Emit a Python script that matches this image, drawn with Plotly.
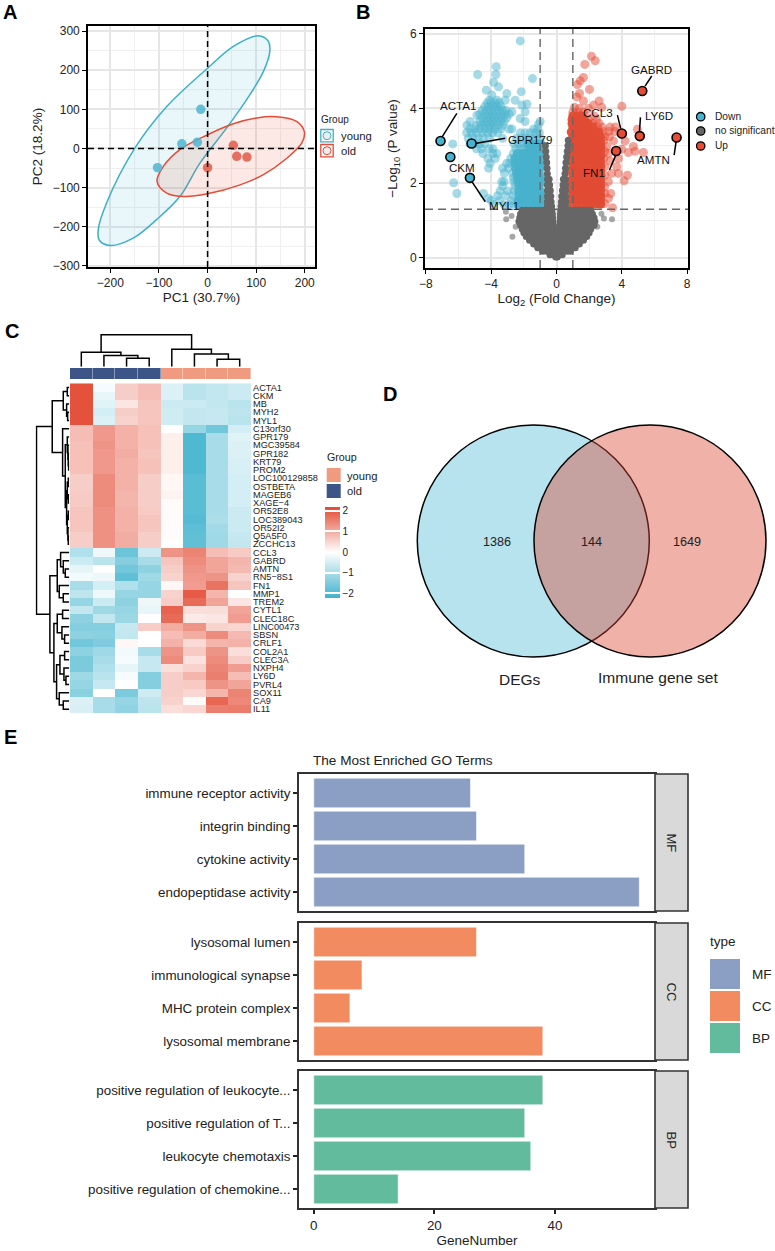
import plotly.graph_objects as go

W, H = 775, 1251
FONT = "Liberation Sans"

# ---------- Panel A data ----------
young_pc1 = [-14, -21, -53, -103]
young_pc2 = [100, 16, 12, -49]
old_pc1 = [0, 53, 60, 81]
old_pc2 = [-49, 8, -20, -22]
young_ell_x = [104, 125, 128, 115, 80, 39, -16, -57, -105, -153, -201, -223, -225, -208, -150, -84, 0, 53, 104]
young_ell_y = [288, 274, 248, 197, 124, 52, -38, -123, -182, -229, -248, -234, -208, -140, 0, 107, 205, 261, 288]
old_ell_x = [142, 183, 199, 194, 163, 115, 67, 0, -47, -84, -104, -91, -57, 0, 53, 101, 142]
old_ell_y = [81, 69, 43, 14, -25, -67, -93, -116, -123, -114, -84, -46, -3, 35, 63, 78, 81]

# ---------- Panel B data (rows: -log10 p -> log2 FC values) ----------
down_rows = {
    5.81: [-2.22], 5.12: [-3.69], 4.91: [-3.71, -4.83], 4.8: [-1.47], 4.7: [-3.85],
    4.58: [-3.55], 4.49: [-4.3], 4.45: [-2.16], 4.4: [-3.04], 4.36: [-3.96],
    4.22: [-3.14, -2.53, -4.1, -3.65], 4.15: [-4.25, -4.0, -3.75, -3.5], 4.12: [-1.81],
    4.09: [-2.12], 4.05: [-4.4, -4.15, -3.9, -3.65, -3.4],
    3.95: [-4.55, -4.3, -4.05, -3.8, -3.55, -3.3, -3.1],
    3.91: [-1.92, -2.73], 3.85: [-4.7, -4.4, -4.15, -3.9, -3.65, -3.4, -3.15, -2.9],
    3.82: [-4.87], 3.75: [-4.55, -4.3, -4.05, -3.8, -3.55, -3.3, -3.05],
    3.73: [-2.22], 3.65: [-5.28, -4.7, -4.45, -4.2, -3.95, -3.7, -3.45, -3.2, -1.92, -1.0],
    3.58: [-1.1], 3.55: [-5.48, -4.9, -4.6, -4.35, -4.1, -3.85, -3.6, -3.3],
    3.45: [-5.3, -5.0, -4.7, -4.4, -4.1, -3.8, -3.4, -2.73, -2.9, -1.4, -1.15],
    3.35: [-5.5, -5.2, -4.9, -4.5, -4.2, -3.9, -3.6, -2.2, -1.9, -1.6, -1.3, -1.05],
    3.2: [-5.4, -5.1, -4.8, -4.5, -4.1, -3.3, -2.45, -2.15, -1.85, -1.55, -1.25, -1.0],
    3.05: [-6.35, -5.3, -5.0, -4.7, -4.4, -2.6, -2.3, -2.05],
    2.92: [-4.9, -4.6, -4.1, -3.9, -2.5, -2.25, -2.0],
    2.79: [-4.5, -3.9, -3.65, -2.65],
    2.66: [-4.2, -3.75, -2.8],
    2.53: [-4.06, -3.05, -2.85], 2.4: [-4.16, -3.3, -2.95], 2.27: [-3.2, -2.7], 2.14: [-2.65], 2.04: [-3.35, -3.2, -2.6],
    1.92: [-3.3, -2.55], 1.79: [-3.45, -3.0, -2.6], 1.72: [-6.1, -4.47], 1.66: [-3.6, -3.1, -2.65], 1.59: [-4.16],
    1.53: [-4.0, -3.5, -2.75], 1.42: [-3.85, -3.2, -2.9, -2.6], 2.01: [-6.3],
}
down_core_rows = {
    3.05: [-1.75, -1.5, -1.2, -0.95],
    2.92: [-1.7, -1.45, -1.15, -0.9], 2.79: [-2.4, -2.1, -1.85, -1.6, -1.3, -1.05],
    2.66: [-2.55, -2.3, -2.0, -1.75, -1.5, -1.2, -0.95],
    2.53: [-2.55, -2.35, -2.1, -1.85, -1.6, -1.35, -1.1, -0.9],
    2.4: [-2.5, -2.25, -2.0, -1.75, -1.5, -1.25, -1.0],
    2.27: [-2.45, -2.3, -2.05, -1.8, -1.55, -1.3, -1.05],
    2.14: [-2.4, -2.2, -1.95, -1.7, -1.45, -1.2, -0.95],
    2.04: [-2.35, -2.1, -1.85, -1.6, -1.35, -1.1, -0.9],
    1.92: [-2.3, -2.05, -1.8, -1.55, -1.3, -1.05],
    1.79: [-2.3, -2.0, -1.75, -1.5, -1.25, -1.0],
    1.66: [-2.3, -2.05, -1.8, -1.55, -1.3, -1.05, -0.85],
    1.53: [-2.35, -2.2, -1.95, -1.7, -1.45, -1.2, -0.95],
    1.42: [-2.35, -2.1, -1.85, -1.6, -1.35, -1.1, -0.9],
}
up_rows = {
    5.4: [2.14], 5.28: [2.37], 5.18: [1.73], 4.83: [1.65], 4.74: [1.45], 4.64: [1.28],
    4.51: [2.02], 4.4: [1.41], 4.31: [1.24], 4.2: [1.65, 2.61], 4.09: [2.27], 4.06: [4.0],
    4.03: [2.77, 1.1], 4.0: [1.96, 1.4], 3.9: [1.0, 1.3, 1.65], 3.8: [1.75, 2.3],
    3.7: [1.95, 2.45], 3.6: [2.2, 2.6],
    3.5: [2.5, 2.8, 3.28, 3.6], 3.44: [4.95], 3.38: [3.59, 3.2, 2.85],
    3.24: [3.24, 2.95], 3.13: [3.49, 4.2, 2.9], 2.98: [3.08, 4.71], 2.91: [4.0],
    2.85: [4.81, 2.95], 2.82: [5.32, 4.4], 2.79: [3.18], 2.66: [3.79, 2.9],
    2.59: [3.28], 2.44: [3.69, 2.95], 2.26: [3.79, 3.38], 2.21: [4.34, 2.95],
    2.06: [4.14], 2.04: [3.18], 1.9: [2.95], 1.72: [3.32, 2.95], 1.59: [3.18], 1.45: [2.95], 1.34: [3.43],
}
up_core_rows = {
    3.8: [1.0, 1.25, 1.5], 3.7: [0.95, 1.2, 1.45, 1.7], 3.6: [0.95, 1.2, 1.45, 1.7, 1.95],
    3.5: [1.0, 1.25, 1.5, 1.75, 2.0, 2.25],
    3.37: [0.9, 1.15, 1.4, 1.65, 1.9, 2.15, 2.4, 2.6],
    3.24: [1.0, 1.25, 1.5, 1.75, 2.0, 2.25, 2.5, 2.7],
    3.11: [0.95, 1.2, 1.45, 1.7, 1.95, 2.2, 2.45, 2.7],
    2.98: [1.0, 1.27, 1.54, 1.81, 2.08, 2.35, 2.6, 2.72],
    2.85: [0.9, 1.15, 1.42, 1.69, 1.96, 2.23, 2.5, 2.7],
    2.72: [1.0, 1.27, 1.54, 1.81, 2.08, 2.35, 2.6, 2.72],
    2.59: [0.9, 1.15, 1.42, 1.69, 1.96, 2.23, 2.5, 2.7],
    2.46: [1.0, 1.27, 1.54, 1.81, 2.08, 2.35, 2.6, 2.72],
    2.33: [0.9, 1.15, 1.42, 1.69, 1.96, 2.23, 2.5, 2.7],
    2.2: [1.0, 1.27, 1.54, 1.81, 2.08, 2.35, 2.6, 2.72],
    2.07: [0.9, 1.15, 1.42, 1.69, 1.96, 2.23, 2.5, 2.7],
    1.94: [1.0, 1.27, 1.54, 1.81, 2.08, 2.35, 2.6, 2.72],
    1.81: [0.9, 1.15, 1.42, 1.69, 1.96, 2.23, 2.5, 2.7],
    1.68: [1.0, 1.27, 1.54, 1.81, 2.08, 2.35, 2.6, 2.72],
    1.55: [0.9, 1.15, 1.42, 1.69, 1.96, 2.23, 2.5, 2.7],
    1.44: [1.0, 1.27, 1.54, 1.81, 2.08, 2.35, 2.6, 2.72],
}
ns_rows = {
    1.03: [-3.08, 3.4], 1.05: [2.9], 1.23: [-3.1], 0.83: [-2.5, 2.5], 0.56: [-2.7], 1.18: [2.75], 1.12: [-2.75],
}
ns_core_rows = {
    3.15: [0.72], 3.0: [-0.68, 0.7], 2.85: [-0.66, 0.66], 2.7: [-0.63, 0.62], 2.55: [-0.6, 0.58],
    2.4: [-0.58, 0.55], 2.25: [-0.56, 0.52], 2.1: [-0.55, -0.45, 0.42, 0.55],
    1.95: [-0.56, -0.42, 0.4, 0.56], 1.8: [-0.56, -0.38, 0.36, 0.56], 1.65: [-0.56, -0.35, 0.32, 0.56],
    1.5: [-0.56, -0.33, 0.3, 0.56], 1.38: [-0.56, -0.3, 0.28, 0.56],
    1.27: [-2.1, -1.85, -1.6, -1.35, -1.1, -0.85, -0.55, -0.28, 0.26, 0.55, 0.85, 1.1, 1.35, 1.6, 1.85, 2.1],
    1.17: [-2.2, -1.95, -1.7, -1.45, -1.2, -0.95, -0.7, -0.45, -0.25, 0.24, 0.45, 0.7, 0.95, 1.2, 1.45, 1.7, 1.95, 2.2],
    1.07: [-2.25, -2.0, -1.75, -1.5, -1.25, -1.0, -0.75, -0.5, -0.24, 0.23, 0.5, 0.75, 1.0, 1.25, 1.5, 1.75, 2.0, 2.3],
    0.97: [-2.3, -2.05, -1.8, -1.55, -1.3, -1.05, -0.8, -0.55, -0.22, 0.22, 0.55, 0.8, 1.05, 1.3, 1.55, 1.8, 2.05, 2.35],
    0.87: [-2.2, -1.95, -1.7, -1.45, -1.2, -0.95, -0.7, -0.45, -0.2, 0.2, 0.45, 0.7, 0.95, 1.2, 1.45, 1.7, 1.95, 2.3],
    0.77: [-2.1, -1.85, -1.6, -1.35, -1.1, -0.85, -0.6, -0.35, -0.17, 0.17, 0.35, 0.6, 0.85, 1.1, 1.35, 1.6, 1.85, 2.1],
    0.67: [-2.0, -1.75, -1.5, -1.25, -1.0, -0.75, -0.5, -0.25, -0.1, 0.1, 0.25, 0.5, 0.75, 1.0, 1.25, 1.5, 1.75, 2.0],
    0.57: [-1.85, -1.6, -1.35, -1.1, -0.85, -0.6, -0.35, -0.1, 0.1, 0.35, 0.6, 0.85, 1.1, 1.35, 1.6, 1.85],
    0.47: [-1.65, -1.4, -1.15, -0.9, -0.65, -0.4, -0.15, 0.0, 0.15, 0.4, 0.65, 0.9, 1.15, 1.4, 1.65],
    0.37: [-1.4, -1.15, -0.9, -0.65, -0.4, -0.15, 0.1, 0.35, 0.6, 0.85, 1.1, 1.4],
    0.27: [-1.15, -0.9, -0.65, -0.4, -0.15, 0.1, 0.35, 0.6, 0.85, 1.15],
    0.17: [-0.85, -0.6, -0.35, -0.1, 0.15, 0.4, 0.65, 0.85],
    0.08: [-0.4, -0.15, 0.1, 0.35], 0.02: [-0.05, 0.05],
}
hi_down_names = ["ACTA1", "GPR179", "CKM", "MYL1"]
hi_down_x = [-7.1, -5.2, -6.5, -5.3]
hi_down_y = [3.13, 3.06, 2.7, 2.14]
hi_up_names = ["GABRD", "CCL3", "LY6D", "AMTN", "FN1"]
hi_up_x = [5.25, 4.0, 5.1, 7.35, 3.65]
hi_up_y = [4.47, 3.33, 3.26, 3.22, 2.86]
# label centres and leader lines, in data units
label_names = ["ACTA1", "GPR179", "CKM", "MYL1", "GABRD", "CCL3", "LY6D", "AMTN", "FN1"]
label_x = [-6.0, -1.61, -5.79, -3.24, 5.83, 2.57, 6.26, 5.93, 2.3]
label_y = [4.07, 3.18, 2.42, 1.41, 5.04, 3.88, 3.82, 2.64, 2.28]
leader_x = [-6.1, -7.0, None, -4.97, -3.14, None, -5.18, -4.36, None, 5.83, 5.42, None, 3.73, 3.93, None, 5.14, 5.08, None, 7.32, 7.2, None, 3.63, 3.24]
leader_y = [3.87, 3.24, None, 3.06, 3.2, None, 2.04, 1.5, None, 4.87, 4.6, None, 3.82, 3.46, None, 3.76, 3.4, None, 3.11, 2.75, None, 2.75, 2.35]

# ---------- Panel C data ----------
genes = ["ACTA1", "CKM", "MB", "MYH2", "MYL1", "C13orf30", "GPR179", "MGC39584", "GPR182", "KRT79", "PROM2",
         "LOC100129858", "OSTBETA", "MAGEB6", "XAGE−4", "OR52E8", "LOC389043", "OR52I2", "Q5A5F0", "ZCCHC13",
         "CCL3", "GABRD", "AMTN", "RN5−8S1", "FN1", "MMP1", "TREM2", "CYTL1", "CLEC18C", "LINC00473", "SBSN",
         "CRLF1", "COL2A1", "CLEC3A", "NXPH4", "LY6D", "PVRL4", "SOX11", "CA9", "IL11"]
expr = [
    [2.1, -0.1, 0.6, 0.8, -0.4, -0.8, -0.7, -0.6],
    [2.1, -0.25, 0.6, 0.8, -0.4, -0.8, -0.7, -0.6],
    [2.1, -0.35, 0.3, 0.7, -0.6, -0.6, -0.7, -0.8],
    [2.1, -0.5, 0.6, 0.7, -0.55, -0.7, -0.65, -0.75],
    [2.1, -0.4, 0.55, 0.7, -0.55, -0.7, -0.65, -0.8],
    [0.8, 1.25, 0.95, 0.75, 0.0, -1.2, -1.6, -0.5],
    [0.8, 1.25, 0.95, 0.75, 0.2, -2.0, -1.0, -0.35],
    [0.75, 1.3, 0.95, 0.75, 0.2, -2.0, -1.0, -0.4],
    [0.75, 1.25, 1.0, 0.7, 0.2, -2.0, -1.0, -0.4],
    [0.75, 1.25, 0.95, 0.75, 0.2, -2.0, -1.0, -0.45],
    [0.75, 1.25, 0.95, 0.75, 0.2, -2.0, -1.0, -0.45],
    [0.6, 1.4, 0.95, 0.6, 0.1, -1.9, -1.0, -0.5],
    [0.6, 1.4, 0.95, 0.6, 0.1, -1.9, -1.0, -0.5],
    [0.65, 1.4, 0.9, 0.6, 0.15, -1.9, -1.0, -0.5],
    [0.65, 1.4, 0.9, 0.6, 0.05, -1.9, -1.0, -0.5],
    [0.7, 1.35, 0.95, 0.65, 0.05, -1.9, -1.0, -0.6],
    [0.7, 1.35, 0.95, 0.7, 0.05, -1.95, -0.95, -0.6],
    [0.7, 1.35, 0.95, 0.7, 0.05, -1.85, -1.05, -0.6],
    [0.6, 1.35, 1.0, 0.6, 0.05, -1.8, -1.1, -0.65],
    [0.6, 1.35, 1.0, 0.6, 0.0, -1.8, -1.1, -0.7],
    [-0.9, -0.2, -1.7, -0.6, 1.3, 1.5, 0.8, 0.65],
    [-0.6, -0.8, -1.4, -1.0, 0.7, 1.4, 1.1, 0.9],
    [-0.3, 0.0, -1.6, -1.3, 0.6, 1.3, 1.1, 0.85],
    [-0.15, -0.2, -1.8, -1.1, 0.55, 1.25, 1.3, 0.55],
    [-1.0, -0.5, -0.9, -1.2, 0.1, 1.2, 1.7, 0.7],
    [-0.75, -0.2, -1.2, -1.2, 0.55, 2.0, 0.9, 0.0],
    [-1.2, -0.6, -1.3, -0.2, 0.6, 1.8, 1.1, 0.3],
    [-0.7, -1.1, -1.2, -0.25, 1.9, 0.4, 0.4, 1.1],
    [-1.3, -0.7, -1.15, 0.0, 1.8, 0.25, 0.3, 1.2],
    [-1.4, -1.4, -0.65, 0.6, 1.0, 1.3, 0.55, 0.5],
    [-1.3, -1.35, -0.7, 0.0, 0.8, 1.0, 1.4, 0.85],
    [-1.6, -1.45, 0.1, 0.0, 0.95, 0.45, 0.9, 0.95],
    [-1.3, -1.1, -0.15, -1.0, 1.3, 0.65, 1.3, 0.4],
    [-1.5, -1.0, -0.1, -0.65, 1.4, 0.35, 1.4, 0.6],
    [-1.5, -0.9, -0.3, -0.65, 0.4, 0.55, 1.5, 1.2],
    [-1.1, -0.8, -0.1, -1.4, 0.6, 0.9, 1.55, 0.8],
    [-1.2, -0.65, 0.0, -1.4, 0.6, 0.65, 1.3, 1.1],
    [-1.35, 0.0, -1.5, -0.55, 0.6, 0.5, 0.9, 1.5],
    [-0.4, -1.0, -1.2, -0.75, 0.55, 0.05, 1.85, 1.45],
    [-0.45, -1.0, -1.25, -0.8, 0.4, 0.5, 1.55, 1.6],
]
sample_groups = [0, 0, 0, 0, 1, 1, 1, 1]
col_tree = (((0, (1, (2, 3, 25), 33), 43)), (4, (5, (6, 7, 22), 38), 52), 95)
row_tree = (
    (((0, 1, 6), (2, (3, 4, 5), 8), 18),
     (5, ((6, (7, (8, (9, 10, 2), 3), 4), 6), (((11, 12, 3), (13, 14, 3), 6), ((15, 16, 3), (17, (18, 19, 3), 4), 6), 8), 12), 20),
     51),
    (((20, (21, (22, 23, 12), 18), 26), (24, (25, 26, 18), 30), 36),
     ((((27, 28, 20), (29, (30, 31, 14), 22), 36)),
      (((32, 33, 14), (34, (35, 36, 10), 16), 28), (37, (38, 39, 18), 30), 38), 46),
     58),
    98)

# ---------- Panel D data ----------
venn_counts = [1386, 144, 1649]
venn_names = ["DEGs", "Immune gene set"]

# ---------- Panel E data ----------
mf_terms = ["immune receptor activity", "integrin binding", "cytokine activity", "endopeptidase activity"]
mf_counts = [26, 27, 35, 54]
cc_terms = ["lysosomal lumen", "immunological synapse", "MHC protein complex", "lysosomal membrane"]
cc_counts = [27, 8, 6, 38]
bp_terms = ["positive regulation of leukocyte...", "positive regulation of T...", "leukocyte chemotaxis", "positive regulation of chemokine..."]
bp_counts = [38, 35, 36, 14]

# ---------- helpers ----------
BLUE, RED = "#4DBBD5", "#E64B35"
MF_C, CC_C, BP_C = "#8B9FC4", "#F28B60", "#62BB9D"
OLD_C, YOUNG_C = "#3C5488", "#F09A80"


def dom_x(a, b):
    return [a / W, b / W]


def dom_y(top, bottom):
    return [1 - bottom / H, 1 - top / H]


def flatten(rows):
    xs, ys = [], []
    for y, vals in rows.items():
        for x in vals:
            xs.append(x)
            ys.append(y)
    return xs, ys


def tree_lines(node):
    xs, hs = [], []

    def walk(n):
        if isinstance(n, int):
            return n, 0
        p1, h1 = walk(n[0])
        p2, h2 = walk(n[1])
        h = n[2]
        xs.extend([p1, p1, p2, p2, None])
        hs.extend([h1, h, h, h2, None])
        return (p1 + p2) / 2, h

    walk(node)
    return xs, hs


fig = go.Figure()
shapes, annots = [], []


def text(px, py, s, size, anchor="left", color="#111", angle=0, weight=None):
    annots.append(dict(xref="paper", yref="paper", x=px / W, y=1 - py / H, text=s, showarrow=False,
                       xanchor=anchor, yanchor="middle", textangle=angle,
                       font=dict(size=size, color=color, family=FONT, weight=weight), borderpad=0))


def rect(x0, y0, x1, y1, fill, line=None, lw=0, layer="above"):
    shapes.append(dict(type="rect", xref="paper", yref="paper", x0=x0 / W, x1=x1 / W, y0=1 - y0 / H, y1=1 - y1 / H,
                       fillcolor=fill, line=dict(color=line or fill, width=lw), layer=layer))


def circle(cx, cy, r, fill, line, lw=1.5, layer="above"):
    shapes.append(dict(type="circle", xref="paper", yref="paper", x0=(cx - r) / W, x1=(cx + r) / W,
                       y0=1 - (cy + r) / H, y1=1 - (cy - r) / H, fillcolor=fill,
                       line=dict(color=line, width=lw), layer=layer))


ax_common = dict(showline=True, linecolor="black", linewidth=1.6, mirror=True, ticks="outside", ticklen=4,
                 tickwidth=1.3, tickcolor="black", zeroline=False, tickfont=dict(size=12, family=FONT, color="#222"))
grid = dict(showgrid=True, gridcolor="#E6E6E6", gridwidth=1.6)
blank = dict(visible=False, showgrid=False, zeroline=False)

# ---------- Panel A ----------
fig.add_trace(go.Scatter(x=young_ell_x, y=young_ell_y, mode="lines", line=dict(color="#3CB0CA", width=1.5, shape="spline", smoothing=1),
                         fill="toself", fillcolor="rgba(77,187,213,0.12)", xaxis="x", yaxis="y", name="young ellipse"))
fig.add_trace(go.Scatter(x=old_ell_x, y=old_ell_y, mode="lines", line=dict(color=RED, width=1.5, shape="spline", smoothing=1),
                         fill="toself", fillcolor="rgba(230,75,53,0.12)", xaxis="x", yaxis="y", name="old ellipse"))
fig.add_trace(go.Scatter(x=young_pc1, y=young_pc2, mode="markers", marker=dict(size=9.5, color="rgba(77,182,208,0.85)"), xaxis="x", yaxis="y", name="young"))
fig.add_trace(go.Scatter(x=old_pc1, y=old_pc2, mode="markers", marker=dict(size=9.5, color="rgba(226,90,72,0.85)"), xaxis="x", yaxis="y", name="old"))

# ---------- Panel B ----------
for rows, size, colour, name in [
    (down_rows, 9, "rgba(77,182,208,0.5)", "Down"),
    (down_core_rows, 9, "rgba(72,178,205,0.92)", "Down (dense)"),
    (up_rows, 9, "rgba(230,75,53,0.5)", "Up"),
    (up_core_rows, 9, "rgba(226,75,52,0.95)", "Up (dense)"),
    (ns_rows, 6, "rgba(95,95,95,0.55)", "no significant"),
    (ns_core_rows, 7, "rgb(102,102,102)", "no significant (dense)"),
]:
    xs, ys = flatten(rows)
    fig.add_trace(go.Scatter(x=xs, y=ys, mode="markers", marker=dict(size=size, color=colour), xaxis="x2", yaxis="y2", name=name))
fig.add_trace(go.Scatter(x=leader_x, y=leader_y, mode="lines", line=dict(color="black", width=1.5), xaxis="x2", yaxis="y2", name="leaders"))
fig.add_trace(go.Scatter(x=hi_down_x, y=hi_down_y, mode="markers", marker=dict(size=9, color="#45B4CF", line=dict(color="black", width=1.6)), xaxis="x2", yaxis="y2", name="Down labelled"))
fig.add_trace(go.Scatter(x=hi_up_x, y=hi_up_y, mode="markers", marker=dict(size=9, color=RED, line=dict(color="black", width=1.6)), xaxis="x2", yaxis="y2", name="Up labelled"))
for name, lx, ly in zip(label_names, label_x, label_y):
    annots.append(dict(xref="x2", yref="y2", x=lx, y=ly, text=name, showarrow=False, font=dict(size=11.6, family=FONT, color="#111")))

# ---------- Panel C ----------
fig.add_trace(go.Heatmap(z=expr, x=list(range(8)), y=genes, xaxis="x3", yaxis="y3", zmin=-2.2, zmax=2.2,
                         colorscale=[[0, "#3FB2CD"], [0.5, "#FFFFFF"], [1, "#E34A33"]],
                         colorbar=dict(x=325 / W, xanchor="left", y=1 - 552 / H, yanchor="middle", lenmode="pixels", len=91,
                                       thickness=15, thicknessmode="pixels", xpad=0, ypad=0, outlinewidth=0, ticks="inside",
                                       tickcolor="white", ticklen=15, tickwidth=1.5, tickvals=[-2, -1, 0, 1, 2],
                                       tickfont=dict(size=10, family=FONT, color="#222"))))
fig.add_trace(go.Heatmap(z=[sample_groups], x=list(range(8)), y=["Group"], xaxis="x4", yaxis="y4", showscale=False, zmin=0, zmax=1,
                         colorscale=[[0, OLD_C], [1, YOUNG_C]], xgap=0.4))
cx, ch = tree_lines(col_tree)
fig.add_trace(go.Scatter(x=cx, y=ch, mode="lines", line=dict(color="black", width=1.5), xaxis="x5", yaxis="y5", name="column tree"))
rx, rh = tree_lines(row_tree)
fig.add_trace(go.Scatter(x=rh, y=rx, mode="lines", line=dict(color="black", width=1.5), xaxis="x6", yaxis="y6", name="row tree"))

# ---------- Panel E ----------
for terms, counts, col, xa, ya in [(mf_terms, mf_counts, MF_C, "x7", "y7"), (cc_terms, cc_counts, CC_C, "x8", "y8"), (bp_terms, bp_counts, BP_C, "x9", "y9")]:
    fig.add_trace(go.Bar(x=counts, y=terms, orientation="h", marker=dict(color=col, line=dict(color="white", width=0.6)),
                         width=0.9, xaxis=xa, yaxis=ya, name=col))

# ---------- Axes ----------
layout = dict(
    template="none",
    width=W, height=H, margin=dict(l=0, r=0, t=0, b=0, autoexpand=False), autosize=False, showlegend=False, plot_bgcolor="white",
    paper_bgcolor="white", font=dict(family=FONT, color="#111"), bargap=0.1,
    xaxis=dict(domain=dom_x(88, 315), range=[-246, 221], tickvals=[-200, -100, 0, 100, 200], **ax_common, **grid,
               minor=dict(tickvals=[-150, -50, 50, 150], showgrid=True, gridcolor="#EFEFEF", gridwidth=1, ticks=""),
               title=dict(text="PC1 (30.7%)", font=dict(size=13.5, family=FONT, color="#222"), standoff=3)),
    yaxis=dict(domain=dom_y(26, 267), range=[-303, 313], tickvals=[-300, -200, -100, 0, 100, 200, 300], **ax_common, **grid,
               minor=dict(tickvals=[-250, -150, -50, 50, 150, 250], showgrid=True, gridcolor="#EFEFEF", gridwidth=1, ticks=""),
               title=dict(text="PC2 (18.2%)", font=dict(size=13.5, family=FONT, color="#222"), standoff=7)),
    xaxis2=dict(domain=dom_x(425, 688), range=[-8.05, 8.05], tickvals=[-8, -4, 0, 4, 8], anchor="y2", **ax_common, **grid,
                minor=dict(tickvals=[-6, -2, 2, 6], showgrid=True, gridcolor="#EFEFEF", gridwidth=1, ticks=""),
                title=dict(text="Log<sub>2</sub> (Fold Change)", font=dict(size=13.5, family=FONT, color="#222"), standoff=3)),
    yaxis2=dict(domain=dom_y(29, 268), range=[-0.276, 6.13], tickvals=[0, 2, 4, 6], anchor="x2", **ax_common, **grid,
                minor=dict(tickvals=[1, 3, 5], showgrid=True, gridcolor="#EFEFEF", gridwidth=1, ticks=""),
                title=dict(text="−Log<sub>10</sub> (P value)", font=dict(size=13.5, family=FONT, color="#222"), standoff=9)),
    xaxis3=dict(domain=dom_x(70, 251), range=[-0.5, 7.5], anchor="y3", **blank),
    yaxis3=dict(domain=dom_y(383.3, 713.3), anchor="x3", side="right", autorange="reversed", type="category", ticks="",
                showline=False, showgrid=False, zeroline=False, dtick=1,
                tickfont=dict(size=9.2, family=FONT, color="#222"), ticklabelstandoff=1),
    xaxis4=dict(domain=dom_x(70, 251), range=[-0.5, 7.5], anchor="y4", **blank),
    yaxis4=dict(domain=dom_y(368, 379.3), anchor="x4", **blank),
    xaxis5=dict(domain=dom_x(70, 251), range=[-0.5, 7.5], anchor="y5", **blank),
    yaxis5=dict(domain=dom_y(334, 366.7), range=[0, 97], anchor="x5", **blank),
    xaxis6=dict(domain=dom_x(35.5, 69.3), range=[101, 0], anchor="y6", **blank),
    yaxis6=dict(domain=dom_y(383.3, 713.3), range=[39.5, -0.5], anchor="x6", **blank),
)
panel_axis = dict(showline=True, linecolor="#333333", linewidth=1.6, mirror=True, ticks="outside", ticklen=4, tickwidth=1.5,
                  tickcolor="#222", showgrid=False, zeroline=False, tickfont=dict(size=13.4, family=FONT, color="#222"))
for idx, top, bottom, last in [(7, 774, 911, False), (8, 923, 1060, False), (9, 1071, 1208, True)]:
    xd = dict(domain=dom_x(299, 655), range=[-2.45, 56.6], anchor=f"y{idx}", tickvals=[0, 20, 40], **panel_axis)
    if last:
        xd["title"] = dict(text="GeneNumber", font=dict(size=13.5, family=FONT, color="#222"), standoff=4)
    else:
        xd["showticklabels"] = False
        xd["ticks"] = ""
    layout[f"xaxis{idx}"] = xd
    layout[f"yaxis{idx}"] = dict(domain=dom_y(top, bottom), anchor=f"x{idx}", type="category", range=[3.575, -0.575], **panel_axis)

# dashed reference lines
for xr, yr, kind, val, col, dash, wd in [
    ("x", "y domain", "v", 0, "black", "6px,4px", 1.5), ("x domain", "y", "h", 0, "black", "6px,4px", 1.5),
    ("x2", "y2 domain", "v", -1, "#666", "8px,5px", 1.4), ("x2", "y2 domain", "v", 1, "#666", "8px,5px", 1.4),
    ("x2 domain", "y2", "h", 1.3, "#666", "8px,5px", 1.4)]:
    if kind == "v":
        shapes.append(dict(type="line", xref=xr, yref=yr, x0=val, x1=val, y0=0, y1=1, line=dict(color=col, dash=dash, width=wd)))
    else:
        shapes.append(dict(type="line", xref=xr, yref=yr, x0=0, x1=1, y0=val, y1=val, line=dict(color=col, dash=dash, width=wd)))

# Panel letters
for s, px, py in [("A", 2, 12), ("B", 355, 12), ("C", 4, 331), ("D", 382, 394), ("E", 3, 737)]:
    text(px, py, s, 20, weight="bold", color="black")

# Panel A legend
text(320, 120, "Group", 10, color="#222")
for (ytop, col, lab) in [(129.5, "#3CB0CA", "young"), (144.5, RED, "old")]:
    rect(320.8, ytop, 333.2, ytop + 12.4, "rgba(255,255,255,0)", col, 1.3)
    circle(327, ytop + 6.2, 4, "rgba(200,200,200,0.35)", col, 1.0)
    text(340, ytop + 6.5, lab, 11.3, color="#222")

# Panel B legend
for yy, col, lab in [(116.7, "#45B4CF", "Down"), (131, "#666666", "no significant"), (146, RED, "Up")]:
    circle(700.7, yy, 4.2, col, "black", 1.3)
    text(714, yy, lab, 10.2, color="#222")

# Panel C legend
text(326, 457, "Group", 10.7, color="#222")
rect(326.7, 468, 340.7, 482, YOUNG_C)
rect(326.7, 484, 340.7, 498, OLD_C)
text(346, 475.5, "young", 11.2, color="#222")
text(346, 491, "old", 11.2, color="#222")

# Panel D venn
circle(533.3, 541, 116, "rgba(77,187,213,0.41)", "black", 1.5)
circle(650, 541, 116, "rgba(220,70,50,0.42)", "black", 1.5)
for px, v in zip([496.7, 591.7, 687], venn_counts):
    text(px, 541.7, str(v), 12.6, anchor="center", color="#222")
text(520, 679, venn_names[0], 15.5, anchor="center", color="#222")
text(658, 677, venn_names[1], 15.5, anchor="center", color="#222")

# Panel E strips, title, legend
text(312, 760, "The Most Enriched GO Terms", 13.6, color="#222")
for top, bottom, lab in [(774, 911, "MF"), (923, 1060, "CC"), (1071, 1208, "BP")]:
    rect(655, top, 688, bottom, "#D9D9D9", "#333333", 1.6)
    text(671, (top + bottom) / 2, lab, 13, anchor="center", angle=90, color="#222")
text(709, 941, "type", 13.5, color="#222")
for top, col, lab in [(959, MF_C, "MF"), (991, CC_C, "CC"), (1023, BP_C, "BP")]:
    rect(710, top, 740, top + 30, col)
    text(751, top + 15, lab, 13.5, color="#222")

layout["shapes"] = shapes
layout["annotations"] = annots
fig.update_layout(**layout)
fig.write_html("out.html", config={"displayModeBar": False}, post_script="document.body.style.margin='0';")
